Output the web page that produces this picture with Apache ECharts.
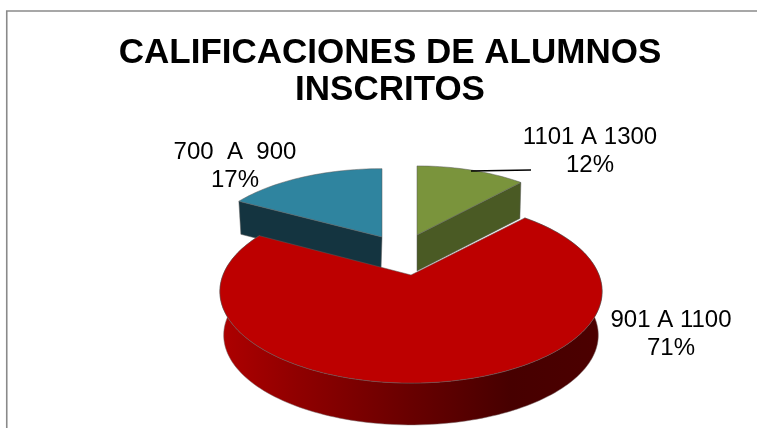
<!DOCTYPE html>
<html><head><meta charset="utf-8">
<style>html,body{margin:0;padding:0;background:#fff}#c{width:757px;height:428px}</style>
<script src="https://cdn.jsdelivr.net/npm/echarts@6/dist/echarts.min.js"></script>
</head><body><div id="c"></div>
<script>
const titleLines = ['CALIFICACIONES DE ALUMNOS', 'INSCRITOS'];
const categories = ['1101 A 1300', '901 A 1100', '700  A  900'];
const percents = [12, 71, 17];

// Drawing layout only (no data)
const cx = 411, cy = 275, R = 188, H = 88.6, K = 0.18;
const looks = [
  {top:'#7a943c', side:'#4a5a24', ox:6, oy:-40, sx:.913, sy:.92, depth:36, lx:590, ly:151},
  {top:'#bd0000', side:null, ox:0, oy:0, sx:1, sy:1, depth:44, lx:671, ly:334},
  {top:'#2f849f', side:'#143440', ox:-29, oy:-38, sx:.944, sy:.91, depth:33, lx:235, ly:166}
];
const total = percents.reduce((a, b) => a + b, 0);

function project(deg, L, scale, dy) {
  const a = deg * Math.PI / 180, u = Math.sin(a), v = Math.cos(a), s = 1 / (1 + K * v);
  return [cx + L.ox + R * L.sx * u * s * scale, cy + L.oy - H * L.sy * v * s * scale + dy];
}
function arc(a0, a1, L, scale, dy) {
  const pts = [], n = Math.max(4, Math.ceil(Math.abs(a1 - a0) / 1.5));
  for (let i = 0; i <= n; i++) pts.push(project(a0 + (a1 - a0) * i / n, L, scale, dy));
  return pts;
}
const edge = 'rgba(90,90,90,0.5)';
function renderItem(params, api) {
  const i = params.dataIndex, val = api.value(0);
  let start = 0;
  for (let k = 0; k < i; k++) start += percents[k];
  const a0 = start / total * 360, a1 = a0 + val / total * 360;
  const L = looks[i], isMain = i === 1;
  const apex = [cx + L.ox, cy + L.oy];
  const children = [];
  const topPts = [apex].concat(arc(a0, a1, L, 1, 0));
  if (isMain) {
    const wall = arc(a0, a1, L, 1, 0).concat(arc(a1, a0, L, 0.98, L.depth));
    children.push({type:'polygon', z2:3, shape:{points:wall}, style:{
      fill:new echarts.graphic.LinearGradient(0,0,1,0,[
        {offset:0,color:'#ae0000'},{offset:.2,color:'#900000'},{offset:.5,color:'#680000'},
        {offset:.76,color:'#470000'},{offset:1,color:'#4c0000'}]),
      stroke:'rgba(120,100,100,0.5)', lineWidth:1}});
  } else {
    const edgeDeg = i === 0 ? a1 : a0;
    const p = project(edgeDeg, L, 1, 0);
    const wall = [apex, p, [p[0] + (i === 0 ? -1 : 2), p[1] + L.depth], [apex[0] + (i === 0 ? 0 : -1), apex[1] + L.depth]];
    children.push({type:'polygon', z2:1, shape:{points:wall}, style:{fill:L.side, stroke:edge, lineWidth:1}});
  }
  children.push({type:'polygon', z2:isMain ? 4 : 2, shape:{points:topPts}, style:{fill:L.top, stroke:edge, lineWidth:1}});
  children.push({type:'text', z2:6, style:{
    text:categories[i] + '\n' + val + '%', x:L.lx, y:L.ly, align:'center', verticalAlign:'middle',
    fill:'#000', font:'24px "Liberation Sans", Arial, sans-serif', lineHeight:28}});
  return {type:'group', children};
}

const chart = echarts.init(document.getElementById('c'), null, {renderer:'canvas'});
chart.setOption({
  animation:false,
  backgroundColor:'#fff',
  title:{text:titleLines.join('\n'), left:390, top:35, padding:0, textAlign:'center',
    textStyle:{fontFamily:'"Liberation Sans", Arial, sans-serif', fontWeight:'bold', fontSize:35, lineHeight:37, color:'#000'}},
  graphic:[
    {type:'polyline', z:0, shape:{points:[[6.75,428],[6.75,11],[757,11]]}, style:{stroke:'#8a8a8a', lineWidth:1.6, fill:null}},
    {type:'line', z:10, shape:{x1:471,y1:171,x2:531,y2:170}, style:{stroke:'#000', lineWidth:1.4}}
  ],
  series:[{type:'custom', coordinateSystem:'none', renderItem, data:percents.map(v => [v]), silent:true}]
});
</script></body></html>
